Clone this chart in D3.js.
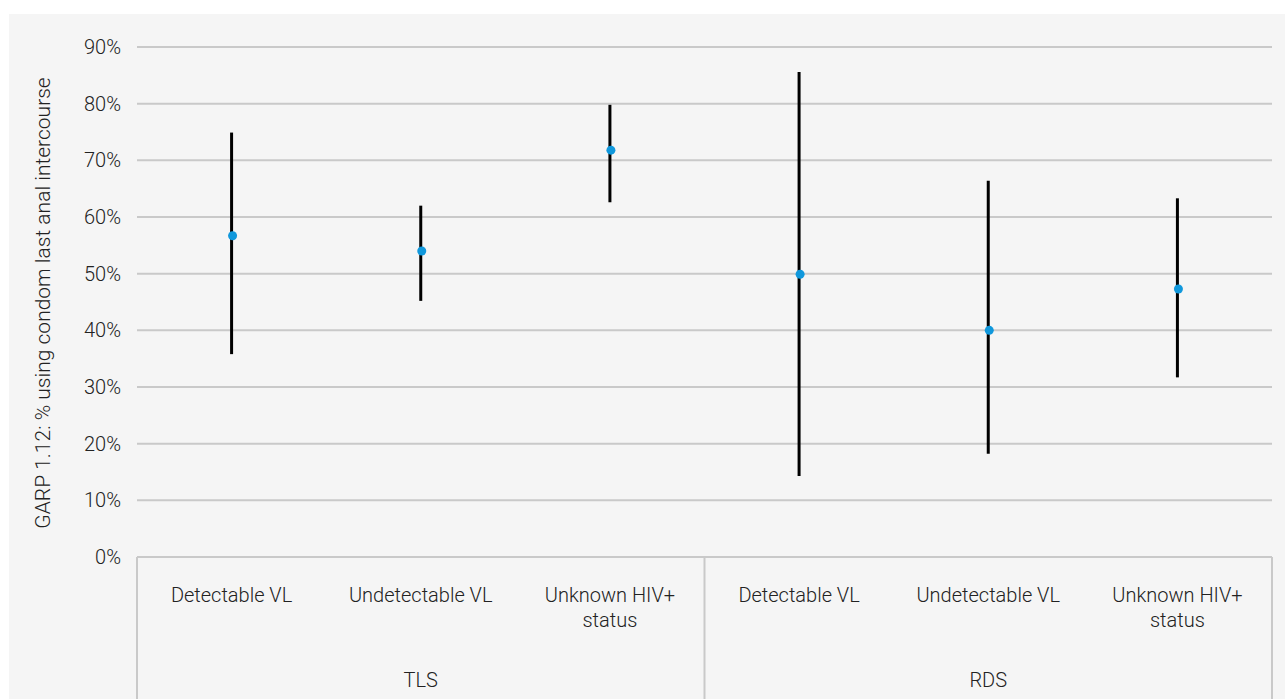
<!DOCTYPE html>
<html><head><meta charset="utf-8">
<script src="https://cdn.jsdelivr.net/npm/d3@7"></script>
<style>
html,body{margin:0;padding:0;background:#fff;}
svg text{font-family:Roboto, "Noto Sans", sans-serif;font-weight:300;fill:#222;}
</style></head><body>
<svg id="c" width="1285" height="699"></svg>
<script>
const groups = ["TLS", "RDS"];
const categories = ["Detectable VL", "Undetectable VL", "Unknown HIV+\nstatus"];
const estimate = [56.7, 54.0, 71.8, 49.9, 40.0, 47.3];
const lower = [35.8, 45.2, 62.6, 14.3, 18.2, 31.7];
const upper = [74.9, 62.0, 79.8, 85.6, 66.4, 63.3];
const yTicks = [0, 10, 20, 30, 40, 50, 60, 70, 80, 90];
const yLabel = "GARP 1.12: % using condom last anal intercourse";

(function () {
const svg = d3.select("#c");
svg.append("rect").attr("x", 9).attr("y", 14).attr("width", 1276).attr("height", 685).attr("fill", "#f5f5f5");

const pLeft = 137, pRight = 1272, pTop = 47, pBottom = 557;
const keys = [];
groups.forEach(g => categories.forEach(c => keys.push(g + "|" + c)));
const x = d3.scaleBand().domain(keys).range([pLeft, pRight]);
const y = d3.scaleLinear().domain([0, 90]).range([pBottom, pTop]);

// gridlines
svg.append("g").selectAll("line").data(yTicks.filter(t => t > 0)).join("line")
  .attr("x1", pLeft).attr("x2", pRight).attr("y1", d => y(d)).attr("y2", d => y(d))
  .attr("stroke", "#c9c9c9").attr("stroke-width", 2);

// y axis labels
const yAxis = d3.axisLeft(y).tickValues(yTicks).tickFormat(d => d + "%").tickSize(0).tickPadding(16);
const ya = svg.append("g").attr("transform", `translate(${pLeft},0)`).call(yAxis);
ya.select(".domain").remove();
ya.selectAll("text").attr("font-size", 20).attr("fill", "#333").style("font-family", "Roboto, sans-serif").style("font-weight", 300);

// y label
svg.append("text").attr("transform", `translate(50,${(pTop + pBottom) / 2 + 1}) rotate(-90)`)
  .attr("text-anchor", "middle").attr("font-size", 21).text(yLabel);

// bottom axis line
svg.append("line").attr("x1", pLeft).attr("x2", pRight).attr("y1", pBottom).attr("y2", pBottom)
  .attr("stroke", "#c9c9c9").attr("stroke-width", 2);

// group separators
const groupBounds = [pLeft];
groups.forEach(g => groupBounds.push(x(g + "|" + categories[categories.length - 1]) + x.bandwidth()));
svg.append("g").selectAll("line").data(groupBounds).join("line")
  .attr("x1", d => d).attr("x2", d => d).attr("y1", pBottom).attr("y2", 699)
  .attr("stroke", "#c9c9c9").attr("stroke-width", 2);

// category labels
const cl = svg.append("g").selectAll("text").data(keys).join("text")
  .attr("x", d => x(d) + x.bandwidth() / 2).attr("y", 602)
  .attr("text-anchor", "middle").attr("font-size", 20);
cl.each(function (d) {
  const lines = d.split("|")[1].split("\n");
  d3.select(this).selectAll("tspan").data(lines).join("tspan")
    .attr("x", x(d) + x.bandwidth() / 2).attr("dy", (l, i) => i === 0 ? 0 : 25).text(l => l);
});

// group labels
svg.append("g").selectAll("text").data(groups).join("text")
  .attr("x", (g, i) => (groupBounds[i] + groupBounds[i + 1]) / 2).attr("y", 687)
  .attr("text-anchor", "middle").attr("font-size", 20).text(g => g);

// whiskers
const marks = svg.append("g");
marks.selectAll("line").data(keys).join("line")
  .attr("x1", d => x(d) + x.bandwidth() / 2).attr("x2", d => x(d) + x.bandwidth() / 2)
  .attr("y1", (d, i) => y(upper[i])).attr("y2", (d, i) => y(lower[i]))
  .attr("stroke", "#000").attr("stroke-width", 3);
marks.selectAll("circle").data(keys).join("circle")
  .attr("cx", d => x(d) + x.bandwidth() / 2 + 1).attr("cy", (d, i) => y(estimate[i]))
  .attr("r", 4.5).attr("fill", "#1098dc");
})();
</script>
</body></html>
